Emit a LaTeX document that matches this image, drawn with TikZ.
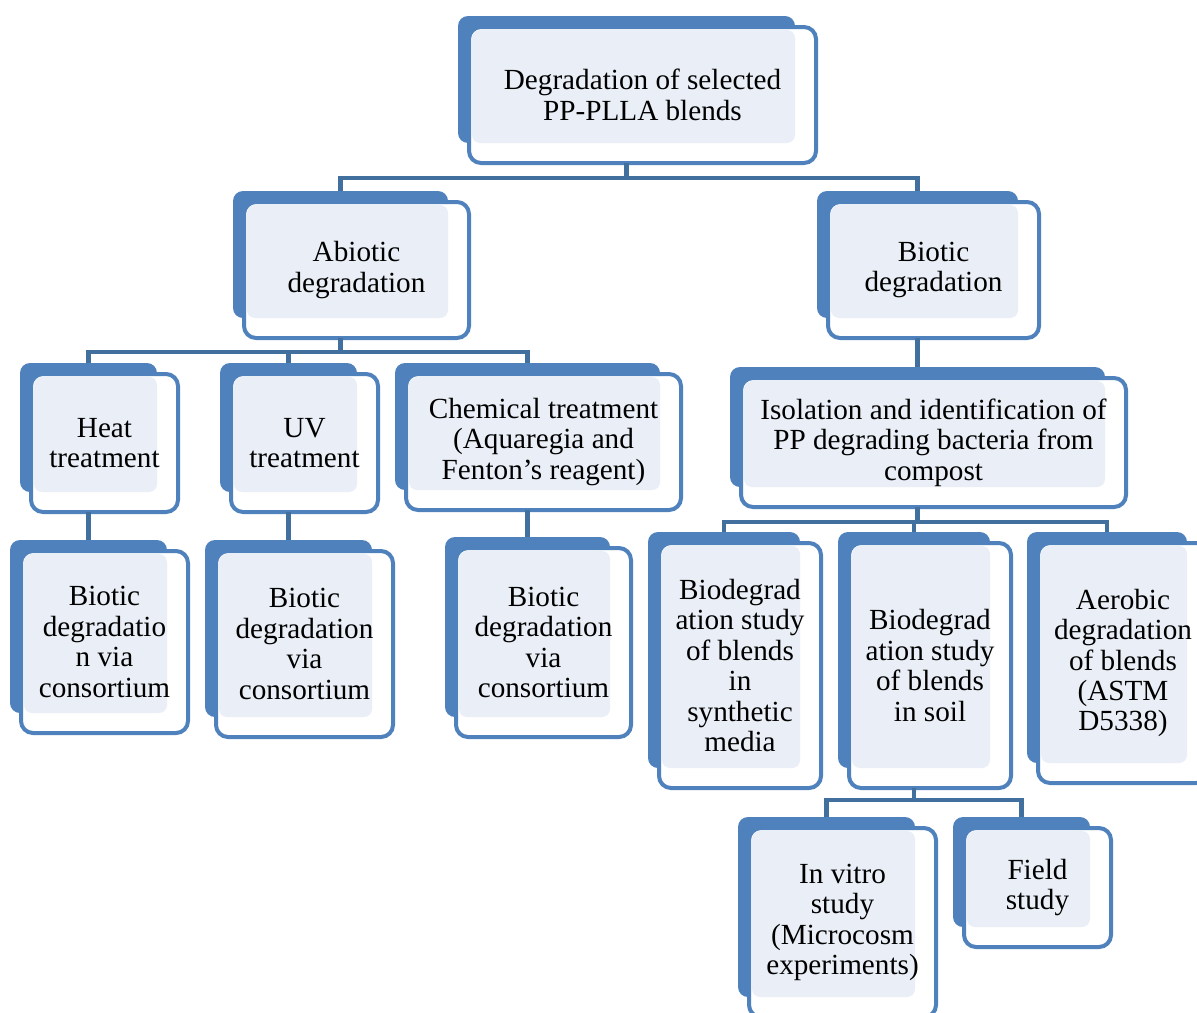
\documentclass[tikz,border=0pt]{standalone}
\usepackage{fontspec}
\setmainfont{Liberation Serif}
\usepackage{xcolor}
\definecolor{cardblue}{HTML}{4F81BD}
\definecolor{cardlight}{HTML}{EAEFF7}
\definecolor{linkblue}{HTML}{41709F}
\begin{document}
\begin{tikzpicture}[x=0.5pt,y=-0.5pt]
        \tikzset{cardback/.style={fill=cardblue,rounded corners=5pt},
            cardfront/.style={draw=cardblue,fill=white,line width=2pt,rounded corners=6pt},
            cardtext/.style={fill=cardlight,rounded corners=4pt},
            label/.style={align=center,font=\fontsize{14.6}{15.2}\selectfont,inner sep=0pt},
            link/.style={draw=linkblue,line width=2.2pt}}
        \useasboundingbox (0,0) rectangle (1197,1012);
        \clip (0,0) rectangle (1197,1012);
        \foreach \n/\xa/\ya/\xb/\yb/\t in {
                top/458/16/795/143/{Degradation of selected\\PP-PLLA blends},
                abio/233/191/448/318/{Abiotic\\degradation},
                biot/817/191/1018/318/{Biotic\\degradation},
                heat/20/363/157/492/{Heat\\treatment},
                uv/220/363/357/492/{UV\\treatment},
                chem/395/363/660/490/{Chemical treatment\\(Aquaregia and\\Fenton’s reagent)},
                isol/730/367/1105/487/{Isolation and identification of\\PP degrading bacteria from\\compost},
                cons1/10/540/167/713/{Biotic\\degradatio\\n via\\consortium},
                cons2/205/540/372/717/{Biotic\\degradation\\via\\consortium},
                cons3/445/537/610/717/{Biotic\\degradation\\via\\consortium},
                synt/648/532/800/768/{Biodegrad\\ation study\\of blends\\in\\synthetic\\media},
                soil/838/532/990/768/{Biodegrad\\ation study\\of blends\\in soil},
                aero/1027/532/1187/763/{Aerobic\\degradation\\of blends\\(ASTM\\D5338)},
                vitro/738/817/915/997/{In vitro\\study\\(Microcosm\\experiments)},
                field/953/817/1090/927/{Field\\study}}
        {
                \path[cardback] (\xa,\ya) rectangle (\xb,\yb);
                \path[cardfront] (\xa+11,\ya+11) rectangle (\xb+21,\yb+20);
                \path[cardtext] (\xa+14,\ya+14) rectangle (\xb,\yb);
                \node[label] (\n) at ({(\xa+\xb)/2+16},{(\ya+\yb)/2+15.5}) {\t};
                \coordinate (\n-t) at ({(\xa+\xb)/2},\ya);
                \coordinate (\n-d) at ({(\xa+\xb)/2},\yb+20);
        }
        \draw[link] (top-d) -- ++(0,15) coordinate (j1);
        \draw[link] (abio-t) |- (j1) -| (biot-t);
        \draw[link] (abio-d) -- ++(0,14) coordinate (j2);
        \draw[link] (heat-t) |- (j2) -| (chem-t);
        \draw[link] (uv-t) -- (uv-t |- j2);
        \draw[link] (heat-d) -- (cons1-t);
        \draw[link] (uv-d) -- (cons2-t);
        \draw[link] (chem-d) -- (cons3-t);
        \draw[link] (biot-d) -- (isol-t);
        \draw[link] (isol-d) -- ++(0,15) coordinate (j3);
        \draw[link] (synt-t) |- (j3) -| (aero-t);
        \draw[link] (soil-t) -- (soil-t |- j3);
        \draw[link] (soil-d) -- ++(0,12) coordinate (j4);
        \draw[link] (vitro-t) |- (j4) -| (field-t);
    \end{tikzpicture}
\end{document}
